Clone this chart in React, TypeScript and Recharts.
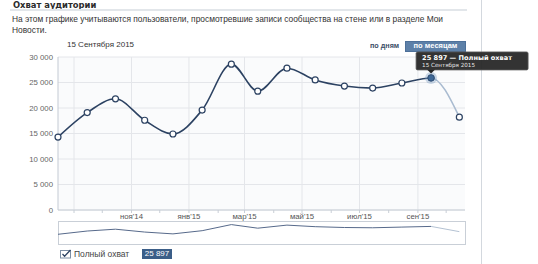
import { CartesianGrid, Line, LineChart, XAxis, YAxis } from "recharts";

const dates = [
  "2014-08-15", "2014-09-15", "2014-10-15", "2014-11-15", "2014-12-15",
  "2015-01-15", "2015-02-15", "2015-03-15", "2015-04-15", "2015-05-15",
  "2015-06-15", "2015-07-15", "2015-08-15", "2015-09-15", "2015-10-15"
];
const reach = [
  14300, 19100, 21800, 17600, 14900, 19600, 28600, 23300, 27800, 25500, 24300, 23900, 24900, 25897, 18200
];
const tickMonths = [
  "2014-09-01", "2014-10-01", "2014-11-01", "2014-12-01", "2015-01-01", "2015-02-01", "2015-03-01",
  "2015-04-01", "2015-05-01", "2015-06-01", "2015-07-01", "2015-08-01", "2015-09-01", "2015-10-01"
];
const tickLabels = ["", "", "ноя'14", "", "янв'15", "", "мар'15", "", "май'15", "", "июл'15", "", "сен'15", ""];
const gridMonths = ["2014-09-01", "2014-11-01", "2015-01-01", "2015-03-01", "2015-05-01", "2015-07-01", "2015-09-01"];
const yTicks = [0, 5000, 10000, 15000, 20000, 25000, 30000];
const monthsGenitive = [
  "Января", "Февраля", "Марта", "Апреля", "Мая", "Июня",
  "Июля", "Августа", "Сентября", "Октября", "Ноября", "Декабря"
];
const xStart = "2014-08-15";
const xEnd = "2015-10-21";
const activeIndex = 13;

const ts = (d: string) => Date.parse(d + "T00:00:00Z");
const fmt = (v: number) => String(v).replace(/\B(?=(\d{3})+(?!\d))/g, " ");
const fmtDate = (d: string) => {
  const dt = new Date(ts(d));
  return `${dt.getUTCDate()} ${monthsGenitive[dt.getUTCMonth()]} ${dt.getUTCFullYear()}`;
};

const data = dates.map((d, i) => ({ t: ts(d), reach: reach[i] }));
const tickValues = tickMonths.map(ts);
const gridValues = gridMonths.map(ts);
const xDomain = [ts(xStart), ts(xEnd)];
// where the incomplete last month starts, as a fraction of the line's width
const split = (ts(dates[activeIndex]) - ts(dates[0])) / (ts(dates[dates.length - 1]) - ts(dates[0]));

const NAVY = "#2c4262";
const PALE = "#a9bbd0";
const FONT = "'Liberation Sans', Arial, sans-serif";
const WIDE = "'DejaVu Sans', Verdana, sans-serif";

function gridX(p: any) {
  const scale = p?.xAxis?.scale;
  if (typeof scale === "function") return gridValues.map((v) => scale(v));
  const { left, width } = p.offset;
  return gridValues.map((v) => left + ((v - xDomain[0]) / (xDomain[1] - xDomain[0])) * width);
}

function ReachDot(props: any) {
  const { cx, cy, index } = props;
  if (cx == null || cy == null) return <g key={`d-${index}`} />;
  if (index !== activeIndex) {
    return <circle key={`d-${index}`} cx={cx} cy={cy} r={3} fill="#fff" stroke={NAVY} strokeWidth={1.2} />;
  }
  return (
    <g key={`d-${index}`}>
      <circle cx={cx} cy={cy} r={6} fill="#7f9fc4" fillOpacity={0.4} />
      <circle cx={cx} cy={cy} r={3.3} fill="#3f6896" stroke="#2c4a70" strokeWidth={1} />
      <rect x={cx - 15} y={cy - 26} width={112} height={18} rx={1.5} fill="#242424" fillOpacity={0.93} stroke="#5c5c5c" strokeWidth={0.8} />
      <path d={`M${cx - 4},${cy - 8.4} L${cx + 4},${cy - 8.4} L${cx},${cy - 4.5} Z`} fill="#242424" />
      <text x={cx - 9} y={cy - 18.2} fontSize={6.6} fontWeight="bold" fill="#fff" fontFamily={WIDE}>
        {fmt(reach[index])} — Полный охват
      </text>
      <text x={cx - 9} y={cy - 10.6} fontSize={5.6} fill="#e8e8e8" fontFamily={WIDE}>
        {fmtDate(dates[index])}
      </text>
    </g>
  );
}

export default function App() {
  const abs = (style: React.CSSProperties): React.CSSProperties => ({ position: "absolute", ...style });
  return (
    <div style={abs({ left: 0, top: 0, width: 538, height: 264, background: "#fff", fontFamily: FONT, color: "#333" })}>
      <div style={abs({ left: 481, top: 0, width: 1, height: 264, background: "#d3d8de" })} />
      <div
        style={abs({ left: 13, top: 0, fontFamily: WIDE, fontSize: 8.4, lineHeight: "10px", fontWeight: "bold", color: "#2b2b2b" })}
      >
        Охват аудитории
      </div>
      <div style={abs({ left: 10, top: 9, width: 457, height: 1.5, background: "#e2e6ea" })} />
      <div style={abs({ left: 12, top: 14, fontSize: 8.4, lineHeight: "10.5px", whiteSpace: "nowrap", color: "#333" })}>
        На этом графике учитываются пользователи, просмотревшие записи сообщества на стене или в разделе Мои
        <br />
        Новости.
      </div>
      <div style={abs({ left: 67, top: 40, fontSize: 8, lineHeight: "10px", color: "#333" })}>{fmtDate(dates[activeIndex])}</div>
      <div style={abs({ left: 370, top: 41, fontSize: 7.2, lineHeight: "10px", fontWeight: "bold", color: "#3a4e66" })}>по дням</div>
      <div
        style={abs({
          left: 405, top: 41, width: 61, height: 10.5, background: "#5d80a8", border: "1px solid #4d7099",
          boxSizing: "border-box", color: "#fff", fontSize: 7.5, lineHeight: "8.5px", fontWeight: "bold", textAlign: "center"
        })}
      >
        по месяцам
      </div>

      <div style={abs({ left: 58, top: 221, width: 408, height: 24, border: "1px solid #c9cfd7", boxSizing: "border-box" })} />
      <div style={abs({ left: 58, top: 222, width: 407, height: 22 })}>
        <LineChart width={407} height={22} data={data} margin={{ top: 0, right: 0, bottom: 0, left: 0 }}>
          <defs>
            <linearGradient id="navStroke" x1="0" y1="0" x2="1" y2="0">
              <stop offset={split} stopColor="#56698a" />
              <stop offset={split} stopColor="#b3c1d2" />
            </linearGradient>
          </defs>
          <XAxis dataKey="t" type="number" domain={xDomain} hide />
          <YAxis domain={[0, 32400]} hide />
          <Line type="linear" dataKey="reach" stroke="url(#navStroke)" strokeWidth={1} dot={false} isAnimationActive={false} />
        </LineChart>
      </div>

      <div style={abs({ left: 0, top: 0 })}>
        <LineChart width={538} height={264} data={data} margin={{ top: 57, right: 73, bottom: 42, left: 0 }}>
          <defs>
            <linearGradient id="mainStroke" x1="0" y1="0" x2="1" y2="0">
              <stop offset={split} stopColor={NAVY} />
              <stop offset={split} stopColor={PALE} />
            </linearGradient>
          </defs>
          <CartesianGrid fill="#fafbfc" stroke="#e4e6ea" verticalCoordinatesGenerator={gridX} />
          <XAxis
            dataKey="t"
            type="number"
            domain={xDomain}
            ticks={tickValues}
            tickFormatter={(v: number) => tickLabels[tickValues.indexOf(v)] ?? ""}
            interval={0}
            height={12}
            tickSize={3}
            tickMargin={0}
            tick={{ fontSize: 7.8, fill: "#555" }}
            axisLine={{ stroke: "#c8ced6" }}
            tickLine={{ stroke: "#c8ced6" }}
          />
          <YAxis
            domain={[0, 30000]}
            ticks={yTicks}
            tickFormatter={fmt}
            width={58}
            tickSize={0}
            tickMargin={5}
            tick={{ fontSize: 7.8, fill: "#666" }}
            axisLine={{ stroke: "#c3cad3" }}
            tickLine={false}
            interval={0}
          />
          <Line
            type="monotone"
            dataKey="reach"
            stroke="url(#mainStroke)"
            strokeWidth={1.6}
            dot={ReachDot}
            activeDot={false}
            isAnimationActive={false}
          />
        </LineChart>
      </div>

      <svg style={abs({ left: 60, top: 249 })} width={12} height={10}>
        <rect x={0.5} y={1.5} width={10} height={7.5} fill="#fff" stroke="#7d8fa5" />
        <path d="M2.5,5 L4.6,7.2 L10.5,1" fill="none" stroke="#2c4262" strokeWidth={1.3} />
      </svg>
      <div style={abs({ left: 74, top: 248.5, fontSize: 8.5, lineHeight: "10px", color: "#444" })}>Полный охват</div>
      <div
        style={abs({
          left: 142, top: 249, width: 30, height: 9.5, background: "#3b5e88", color: "#fff",
          fontSize: 8, lineHeight: "9.5px", textAlign: "center"
        })}
      >
        {fmt(reach[activeIndex])}
      </div>
    </div>
  );
}
